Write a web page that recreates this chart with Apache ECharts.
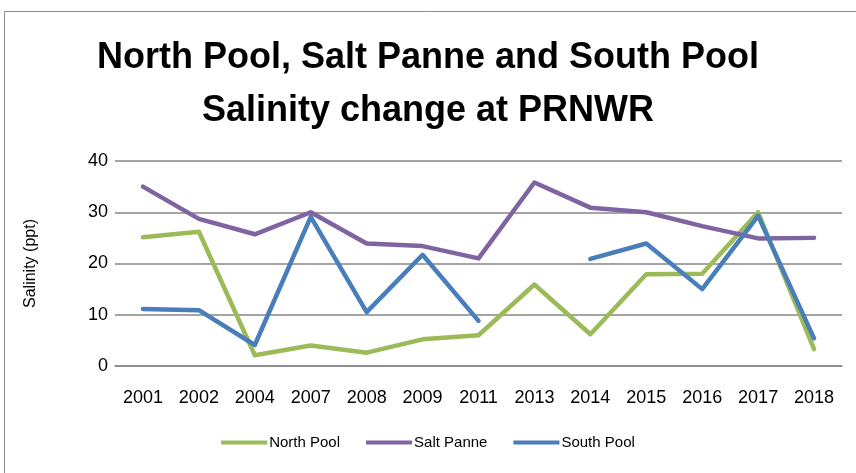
<!DOCTYPE html>
<html>
<head>
<meta charset="utf-8">
<script src="https://cdn.jsdelivr.net/npm/echarts@6/dist/echarts.min.js"></script>
<style>
html, body { margin: 0; padding: 0; background: #fff; }
#main { width: 856px; height: 473px; }
</style>
</head>
<body>
<div id="main"></div>
<script>
var years = [ '2001', '2002', '2004', '2007', '2008', '2009', '2011', '2013',
		'2014', '2015', '2016', '2017', '2018' ];
var northPool = [ 25.1, 26.2, 2.1, 4, 2.6, 5.2, 6, 15.9, 6.2, 17.9, 18, 30, 3.3 ];
var saltPanne = [ 35, 28.7, 25.7, 30, 23.9, 23.4, 21, 35.8, 30.9, 30, 27.3, 24.9, 25 ];
var southPool = [ 11.1, 10.9, 4.1, 29.1, 10.5, 21.7, 8.8, null, 20.9, 23.9, 15, 29.3, 5.4 ];

var chart = echarts.init(document.getElementById('main'));

function lineSeries(name, data, color) {
	return {
		type : 'line',
		name : name,
		data : data,
		symbol : 'none',
		connectNulls : false,
		color : color,
		lineStyle : {
			width : 4.5,
			color : color,
			cap : 'round',
			join : 'round'
		}
	};
}

chart.setOption({
	animation : false,
	graphic : [ {
		type : 'rect',
		shape : { x : 4.5, y : 11.5, width : 900, height : 500 },
		style : { fill : 'none', stroke : '#8c8c8c', lineWidth : 1 }
	} ],
	title : {
		text : 'North Pool, Salt Panne and South Pool\nSalinity change at PRNWR',
		left : 'center',
		top : 27,
		textStyle : {
			fontFamily : 'Liberation Sans',
			fontWeight : 'bold',
			fontSize : 36,
			lineHeight : 53,
			color : '#000'
		}
	},
	legend : {
		bottom : 18,
		left : 'center',
		icon : 'rect',
		itemWidth : 46,
		itemHeight : 4,
		itemGap : 26,
		textStyle : {
			fontFamily : 'Liberation Sans',
			fontSize : 15,
			color : '#000',
			padding : [ 0, 0, 0, -3 ]
		},
		data : [ 'North Pool', 'Salt Panne', 'South Pool' ]
	},
	grid : {
		left : 115,
		right : 14,
		top : 161,
		bottom : 107
	},
	xAxis : {
		type : 'category',
		data : years,
		boundaryGap : true,
		axisLine : { show : true, lineStyle : { color : '#868686', width : 1.5 } },
		axisTick : { show : false },
		axisLabel : {
			fontFamily : 'Liberation Sans',
			fontSize : 18,
			color : '#000',
			margin : 23
		}
	},
	yAxis : {
		type : 'value',
		min : 0,
		max : 40,
		interval : 10,
		name : 'Salinity (ppt)',
		nameLocation : 'middle',
		nameGap : 76,
		nameTextStyle : {
			fontFamily : 'Liberation Sans',
			fontSize : 16,
			color : '#000'
		},
		axisLine : { show : false },
		axisTick : { show : false },
		axisLabel : {
			fontFamily : 'Liberation Sans',
			fontSize : 18,
			color : '#000',
			margin : 7
		},
		splitLine : { lineStyle : { color : '#868686', width : 1.5 } }
	},
	series : [ lineSeries('North Pool', northPool, '#9BBB59'),
			lineSeries('Salt Panne', saltPanne, '#8064A2'),
			lineSeries('South Pool', southPool, '#4A7EBB') ]
});
</script>
</body>
</html>
